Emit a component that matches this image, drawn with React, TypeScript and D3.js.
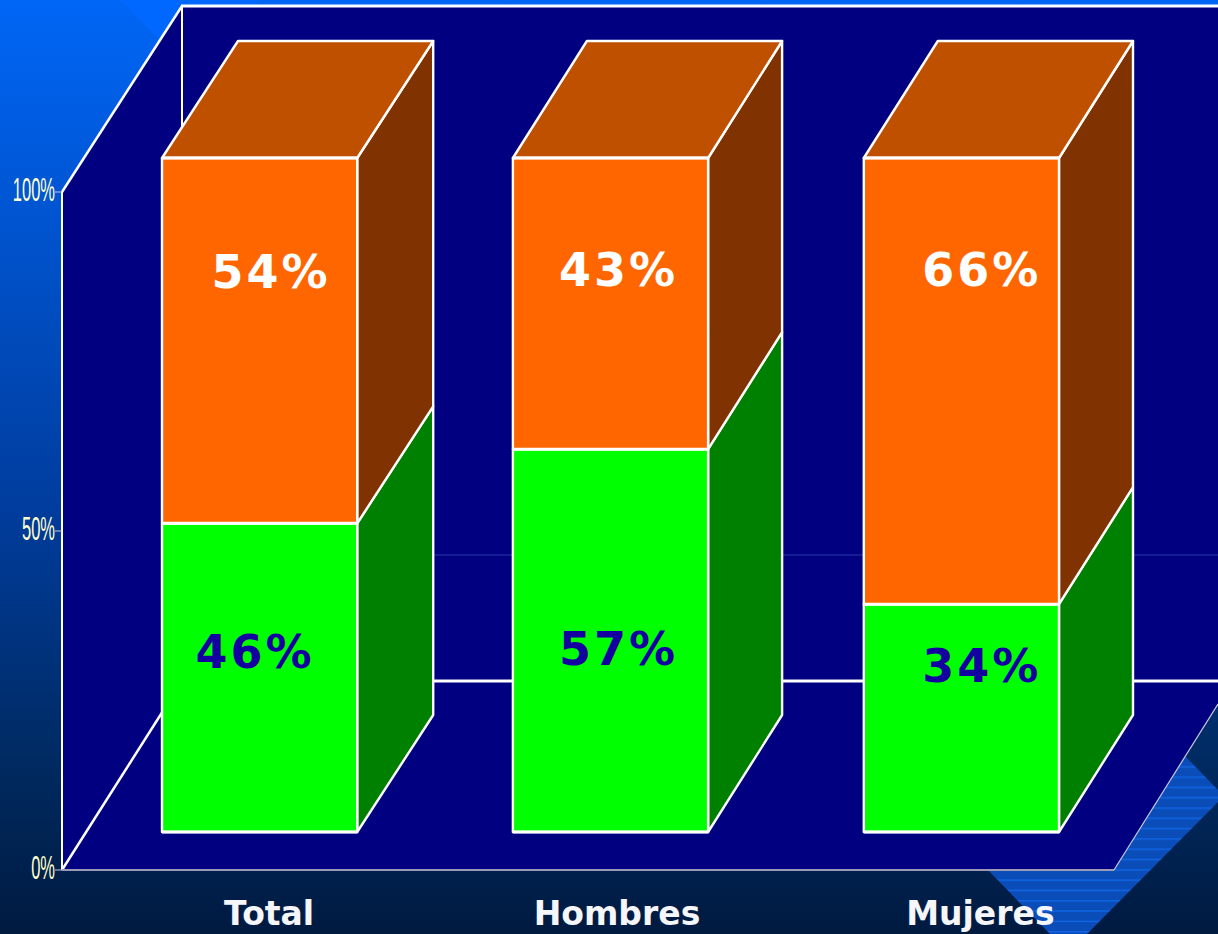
import React from "react";
import * as d3 from "d3";

const categories = ["Total", "Hombres", "Mujeres"];
const greenValues = [45.8, 56.8, 33.8];
const orangeValues = [54.2, 43.2, 66.2];
const greenLabels = ["46%", "57%", "34%"];
const orangeLabels = ["54%", "43%", "66%"];
const axisTicks = [0, 50, 100];

const W = 1218, H = 934;
const DEPTH_X = [76, 74, 74];
const DEPTH_Y = -117;
const orangeLabelLayout = [{ dx: 11.5, y: 287.5 }, { dx: 8, y: 286 }, { dx: 20.5, y: 286 }];
const greenLabelLayout = [{ dx: -4.5, y: 667.5 }, { dx: 8, y: 664.5 }, { dx: 20.5, y: 682 }];
const categoryDx = [9.5, 6.5, 19];

const NAVY = "#000080";

export default function App() {
  const x = d3.scaleBand<string>().domain(categories).range([162, 1059]).paddingInner(0.4437).paddingOuter(0);
  const yBar = d3.scaleLinear().domain([0, 100]).range([832, 158]);
  const yAxis = d3.scaleLinear().domain([0, 100]).range([870, 192]);
  const poly = d3.line<[number, number]>().x(d => d[0]).y(d => d[1]);
  const closed = (pts: [number, number][]) => poly(pts) + "Z";
  const bw = x.bandwidth();

  return (
    <svg width={W} height={H} viewBox={`0 0 ${W} ${H}`} style={{ position: "absolute", left: 0, top: 0, display: "block" }}>
      <defs>
        <linearGradient id="bg" x1="0" y1="0" x2="0" y2="1">
          <stop offset="0" stopColor="#0066f6" />
          <stop offset="0.55" stopColor="#003c9c" />
          <stop offset="0.82" stopColor="#002a60" />
          <stop offset="1" stopColor="#001a40" />
        </linearGradient>
        <pattern id="hatch" width="6" height="30.9" patternUnits="userSpaceOnUse" y="4">
          <rect width="6" height="30.9" fill="#0b4db8" />
          <rect y="0" width="6" height="1.4" fill="#0f66e6" />
          <rect y="10.3" width="6" height="1.4" fill="#0f66e6" />
          <rect y="20.6" width="6" height="1.4" fill="#0f66e6" />
        </pattern>
      </defs>
      <rect width={W} height={H} fill="url(#bg)" />
      <path d={closed([[120, 0], [190, 70], [260, 0]])} fill="#0068ff" />
      <path d={closed([[1186, 757], [1218, 790], [1218, 802], [1087, 934], [1050, 934], [988, 870]])} fill="url(#hatch)" />

      {/* walls and floor */}
      <path d={closed([[62, 192], [182, 6], [W, 6], [W, 704], [1114, 870], [62, 870]])} fill={NAVY} />
      <line x1={182} x2={W} y1={555} y2={555} stroke="#2a3aa8" strokeWidth={1} />
      <line x1={182} x2={W} y1={681} y2={681} stroke="#fff" strokeWidth={3} />
      <line x1={182} x2={182} y1={6} y2={681} stroke="#fff" strokeWidth={2} />
      <line x1={181} x2={W} y1={6} y2={6} stroke="#fff" strokeWidth={3} />
      <line x1={62} x2={182} y1={192} y2={6} stroke="#fff" strokeWidth={2.5} />
      <line x1={62} x2={182} y1={870} y2={681} stroke="#fff" strokeWidth={2.5} />
      <line x1={62} x2={62} y1={192} y2={870} stroke="#fff" strokeWidth={2} />
      <line x1={62} x2={1114} y1={870} y2={870} stroke="#9a9ab8" strokeWidth={2} />
      <line x1={1114} x2={W} y1={870} y2={704} stroke="#c8c8dc" strokeWidth={1.2} />

      {/* axis */}
      {axisTicks.map(t => (
        <g key={t}>
          <line x1={55} x2={62} y1={yAxis(t)} y2={yAxis(t)} stroke="#c8c8dc" strokeWidth={1} />
          <text transform={`translate(55,${yAxis(t) + 9}) scale(0.5,1)`} textAnchor="end" fontFamily="Liberation Sans" fontSize={33} fill="#ffffcc">{t}%</text>
        </g>
      ))}

      {/* bars */}
      {categories.map((c, i) => {
        const x0 = x(c)!, x1 = x0 + bw;
        const yG = yBar(greenValues[i]);
        const yT = yBar(greenValues[i] + orangeValues[i]);
        const y0 = yBar(0);
        const dX = DEPTH_X[i];
        const sw = { stroke: "#fff", strokeWidth: 2.4, strokeLinejoin: "round" as const };
        return (
          <g key={c}>
            <path d={closed([[x1, y0], [x1 + dX, y0 + DEPTH_Y], [x1 + dX, yG + DEPTH_Y], [x1, yG]])} fill="#008000" {...sw} />
            <path d={closed([[x1, yG], [x1 + dX, yG + DEPTH_Y], [x1 + dX, yT + DEPTH_Y], [x1, yT]])} fill="#803300" {...sw} />
            <path d={closed([[x0, yT], [x1, yT], [x1 + dX, yT + DEPTH_Y], [x0 + dX, yT + DEPTH_Y]])} fill="#bf5000" {...sw} />
            <rect x={x0} y={yG} width={bw} height={y0 - yG} fill="#00ff00" {...sw} />
            <rect x={x0} y={yT} width={bw} height={yG - yT} fill="#ff6600" {...sw} />
            <line x1={x0} x2={x1} y1={y0} y2={y0} stroke="#fff" strokeWidth={3} />
            <line x1={x0} x2={x1} y1={yG} y2={yG} stroke="#fff" strokeWidth={3} />
            <line x1={x0} x2={x1} y1={yT} y2={yT} stroke="#fff" strokeWidth={3} />
            <text x={x0 + bw / 2 + orangeLabelLayout[i].dx} y={orangeLabelLayout[i].y} textAnchor="middle" fontFamily="DejaVu Sans" fontWeight="bold" fontSize={46} letterSpacing={3} fill="#fff">{orangeLabels[i]}</text>
            <text x={x0 + bw / 2 + greenLabelLayout[i].dx} y={greenLabelLayout[i].y} textAnchor="middle" fontFamily="DejaVu Sans" fontWeight="bold" fontSize={46} letterSpacing={3} fill="#1400a0">{greenLabels[i]}</text>
            <text x={x0 + bw / 2 + categoryDx[i]} y={925} textAnchor="middle" fontFamily="DejaVu Sans" fontWeight="bold" fontSize={33} fill="#f4f6fa">{c}</text>
          </g>
        );
      })}
    </svg>
  );
}
